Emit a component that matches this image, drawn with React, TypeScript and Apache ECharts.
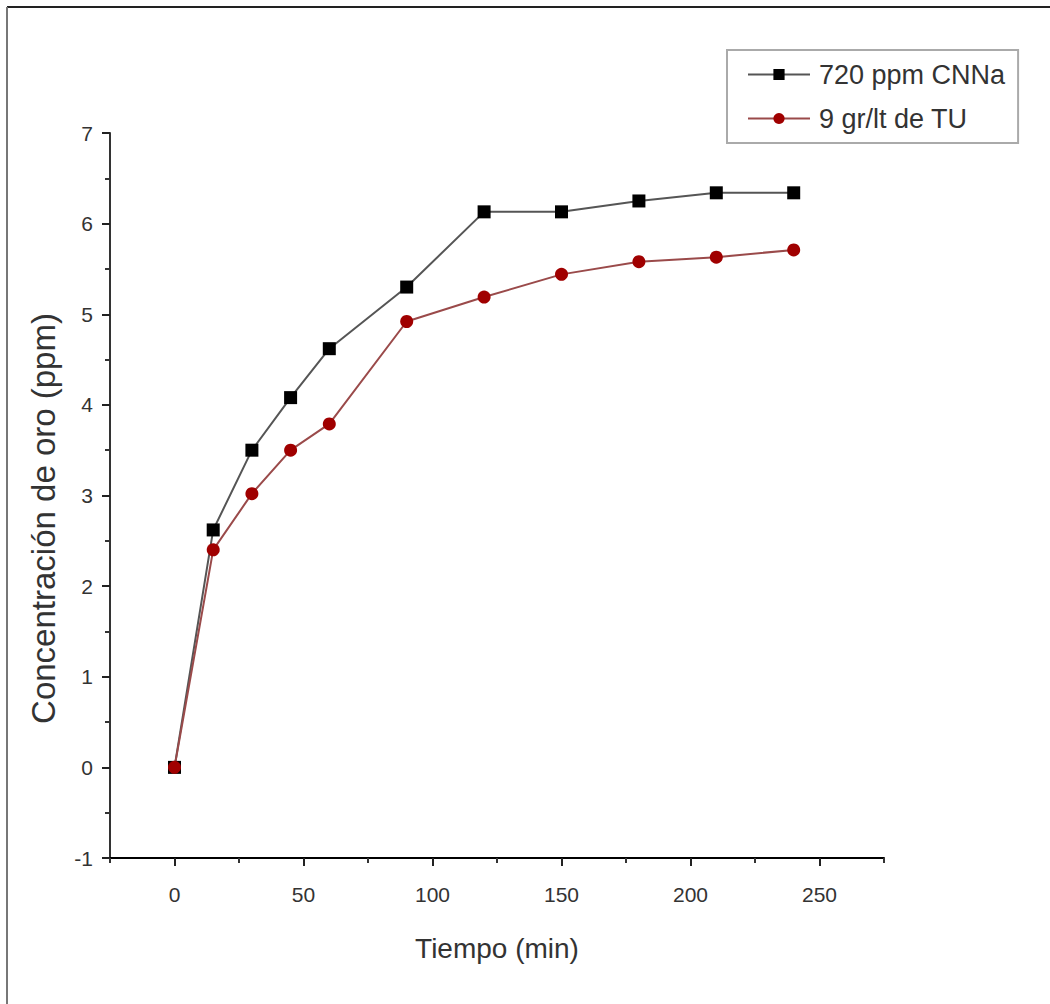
import React, { useEffect, useRef } from "react";
import * as echarts from "echarts";

const times = [0, 15, 30, 45, 60, 90, 120, 150, 180, 210, 240];
const cnnaValues = [0, 2.62, 3.5, 4.08, 4.62, 5.3, 6.13, 6.13, 6.25, 6.34, 6.34];
const tuValues = [0, 2.4, 3.02, 3.5, 3.79, 4.92, 5.19, 5.44, 5.58, 5.63, 5.71];
const seriesNames = ["720 ppm CNNa", "9 gr/lt de TU"];
const xMajorTicks = [0, 50, 100, 150, 200, 250];
const xMinorTicks = [-25, 25, 75, 125, 175, 225, 275];
const xTitle = "Tiempo (min)";
const yTitle = "Concentración de oro (ppm)";

const FONT = "'Liberation Sans', Arial, sans-serif";

export default function App() {
  const ref = useRef<HTMLDivElement>(null);
  useEffect(() => {
    if (!ref.current) return;
    const chart = echarts.init(ref.current, null, { renderer: "svg" });
    const pair = (vals: number[]) => times.map((t, i) => [t, vals[i]]);
    chart.setOption({
      animation: false,
      backgroundColor: "#ffffff",
      textStyle: { fontFamily: FONT },
      grid: { left: 110, right: 166, top: 133, bottom: 146 },
      legend: {
        orient: "vertical",
        left: 727,
        top: 50,
        padding: [11, 13, 11, 20],
        borderColor: "#aaaaaa",
        borderWidth: 2,
        itemGap: 17,
        itemWidth: 62,
        itemHeight: 14,
        textStyle: { fontSize: 27, color: "#333333", fontFamily: FONT, padding: [0, 0, 0, 4] },
        data: seriesNames,
      },
      xAxis: [
        {
          type: "value",
          min: -25,
          max: 275,
          position: "bottom",
          name: xTitle,
          nameLocation: "middle",
          nameGap: 76,
          nameTextStyle: { fontSize: 28, color: "#333333", fontFamily: FONT },
          axisLine: { onZero: false, lineStyle: { color: "#000000", width: 2 } },
          axisTick: { show: true, inside: false, length: 8, customValues: xMajorTicks, lineStyle: { color: "#222222", width: 2 } },
          axisLabel: { customValues: xMajorTicks, fontSize: 21, color: "#333333", margin: 26, fontFamily: FONT },
          splitLine: { show: false },
        },
        {
          type: "value",
          min: -25,
          max: 275,
          position: "bottom",
          axisLine: { show: false, onZero: false },
          axisTick: { show: true, inside: false, length: 5, customValues: xMinorTicks, lineStyle: { color: "#333333", width: 2 } },
          axisLabel: { show: false },
          splitLine: { show: false },
        },
      ],
      yAxis: {
        type: "value",
        min: -1,
        max: 7,
        interval: 1,
        name: yTitle,
        nameLocation: "middle",
        nameGap: 50,
        nameTextStyle: { fontSize: 33, color: "#333333", fontFamily: FONT, padding: [0, 46, 0, 0] },
        axisLine: { onZero: false, lineStyle: { color: "#333333", width: 2 } },
        axisTick: { show: true, inside: false, length: 8, lineStyle: { color: "#222222", width: 2 } },
        minorTick: { show: true, splitNumber: 2, length: 5, lineStyle: { color: "#333333", width: 2 } },
        axisLabel: { fontSize: 21, color: "#333333", margin: 17, fontFamily: FONT },
        splitLine: { show: false },
        minorSplitLine: { show: false },
      },
      series: [
        {
          name: seriesNames[0],
          type: "line",
          data: pair(cnnaValues),
          symbol: "rect",
          symbolSize: 13,
          itemStyle: { color: "#000000" },
          lineStyle: { color: "#555555", width: 2 },
        },
        {
          name: seriesNames[1],
          type: "line",
          data: pair(tuValues),
          symbol: "circle",
          symbolSize: 13,
          itemStyle: { color: "#a00000" },
          lineStyle: { color: "#9a4a4a", width: 2 },
        },
      ],
      graphic: [
        { type: "line", shape: { x1: 7, y1: 7, x2: 1050, y2: 7 }, style: { stroke: "#222222", lineWidth: 2 } },
        { type: "line", shape: { x1: 7, y1: 7, x2: 7, y2: 1004 }, style: { stroke: "#777777", lineWidth: 2 } },
      ],
    });
    return () => chart.dispose();
  }, []);
  return (
    <div
      ref={ref}
      style={{ position: "absolute", left: 0, top: 0, width: 1050, height: 1004 }}
    />
  );
}
